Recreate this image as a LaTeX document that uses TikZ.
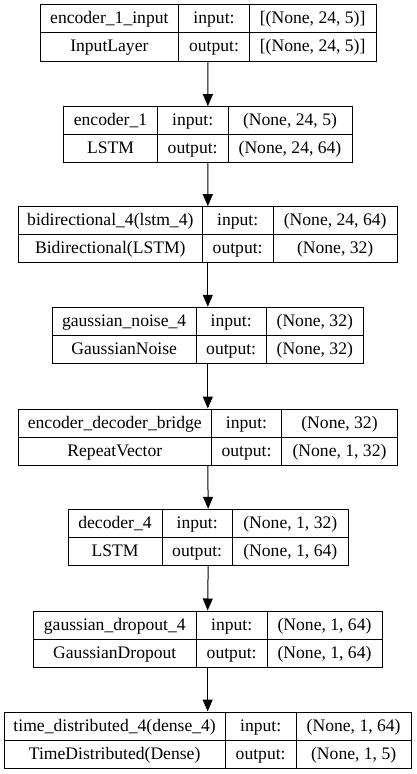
\documentclass[tikz,border=0pt]{standalone}
\usepackage{fontspec}
\setmainfont{Liberation Serif}
\usepackage{tikz}
\usetikzlibrary{arrows.meta}

\begin{document}
\begin{tikzpicture}[x=1bp, y=-1bp, line width=1bp,
		layer/.style={draw, inner sep=0pt, minimum height=56bp},
		cell/.style={inner sep=0pt, anchor=base, font=\fontsize{17.6bp}{20bp}\selectfont},
		flow/.style={-{Triangle[length=12bp, width=10bp]}}]
		\useasboundingbox[fill=white] (0,0) rectangle (416,774);
		
		% 每一层：上边 / 左 / 分隔1 / 分隔2 / 右 / 名称 / 类型 / 输入 / 输出
		\foreach \ytop/\xa/\xb/\xc/\xd/\lname/\lclass/\lin/\lout [count=\i] in {
			5/40/178.7/249.3/376/encoder\_1\_input/InputLayer/{[(None, 24, 5)]}/{[(None, 24, 5)]},
			106.7/63.7/157.3/228/352/encoder\_1/LSTM/{(None, 24, 5)}/{(None, 24, 64)},
			206.7/18.3/202.3/273/397.3/bidirectional\_4(lstm\_4)/Bidirectional(LSTM)/{(None, 24, 64)}/{(None, 32)},
			307.3/52.3/196/266.3/363.3/gaussian\_noise\_4/GaussianNoise/{(None, 32)}/{(None, 32)},
			409/18.3/211.3/281.7/397.3/encoder\_decoder\_bridge/RepeatVector/{(None, 32)}/{(None, 1, 32)},
			509.3/68/162/232.3/348.3/decoder\_4/LSTM/{(None, 1, 32)}/{(None, 1, 64)},
			611/33.3/196.3/267/382/gaussian\_dropout\_4/GaussianDropout/{(None, 1, 64)}/{(None, 1, 64)},
			712/4/225.3/296/411.3/time\_distributed\_4(dense\_4)/TimeDistributed(Dense)/{(None, 1, 64)}/{(None, 1, 5)}
		}{
			\node[layer, minimum width={(\xd-\xa)*1bp}] (L\i) at ({(\xa+\xd)/2}, \ytop+28) {};
			\draw (L\i.west) -- (L\i.east);
			\draw (\xb, \ytop) -- (\xb, \ytop+56);
			\draw (\xc, \ytop) -- (\xc, \ytop+56);
			
			\node[cell] (L\i-name) at ({(\xa+\xb)/2}, \ytop+19) {\lname};
			\node[cell] (L\i-class) at ({(\xa+\xb)/2}, \ytop+47) {\lclass};
			\node[cell] (L\i-inkey) at ({(\xb+\xc)/2}, \ytop+19) {input:};
			\node[cell] (L\i-outkey) at ({(\xb+\xc)/2}, \ytop+47) {output:};
			\node[cell] (L\i-in) at ({(\xc+\xd)/2}, \ytop+19) {\lin};
			\node[cell] (L\i-out) at ({(\xc+\xd)/2}, \ytop+47) {\lout};
		}
		
		% 层与层之间的箭头
		\foreach \i [evaluate=\i as \j using int(\i+1)] in {1,...,7}
			\draw[flow] (L\i.south) -- (L\j.north);
	\end{tikzpicture}
\end{document}
